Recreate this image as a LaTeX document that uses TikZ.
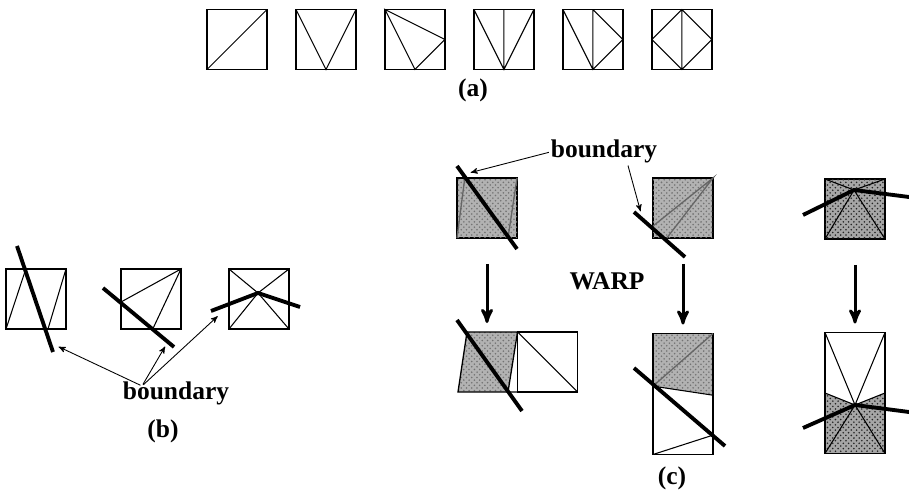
\documentclass[tikz,border=0pt]{standalone}
\usepackage{fontspec}
\setmainfont{Liberation Serif}
\usepackage{tikz}
\usetikzlibrary{arrows,calc,patterns,positioning,backgrounds}
\tikzset{
warpfig/.style={x=0.02cm,y=-0.02cm,>=stealth',line join=miter},
cell/.style={draw,line width=0.75pt,minimum width=1.2cm,minimum height=1.2cm,
inner sep=0pt,outer sep=0pt},
tall/.style={cell,minimum height=2.42cm},
mesh/.style={line width=0.6pt},
ghost/.style={line width=0.75pt,draw=black!60},
boundary line/.style={line width=2.2pt},
stipple/.style={fill=black!30,postaction={pattern=crosshatch dots,pattern color=black!55}},
dark stipple/.style={fill=black!35,postaction={pattern=crosshatch dots,pattern color=black!85}},
pointer/.style={->,line width=0.5pt,shorten >=1pt,shorten <=1pt},
warp/.style={->,line width=1.7pt,shorten <=0.52cm,shorten >=0.18cm},
caption/.style={font=\fontsize{14.5}{16}\selectfont\bfseries,inner sep=0pt,anchor=base},
}

\begin{document}
\begin{tikzpicture}[warpfig]
\useasboundingbox (0,0) rectangle (909,496);

% (a) ways of cutting one cell into triangles
\node[cell] (a1) at (237,39.5) {};
\node[cell,right=0.58cm of a1] (a2) {};
\node[cell,right=0.58cm of a2] (a3) {};
\node[cell,right=0.58cm of a3] (a4) {};
\node[cell,right=0.58cm of a4] (a5) {};
\node[cell,right=0.58cm of a5] (a6) {};
\draw[mesh] (a1.south west) -- (a1.north east);
\draw[mesh] (a2.north west) -- (a2.south) -- (a2.north east);
\draw[mesh] (a3.north west) -- (a3.east) -- (a3.south) -- cycle;
\draw[mesh] (a4.north) -- (a4.south) (a4.north west) -- (a4.south) -- (a4.north east);
\draw[mesh] (a5.north) -- (a5.south) (a5.north west) -- (a5.south) -- (a5.east) -- (a5.north);
\draw[mesh] (a6.north) -- (a6.east) -- (a6.south) -- (a6.west) -- cycle (a6.north) -- (a6.south);
\node[caption] (capa) at (473,97) {(a)};

% (b) cells crossed by a boundary
\node[cell] (b1) at (36,299) {};
\node[cell,right=1.1cm of b1] (b2) {};
\node[cell,right=0.96cm of b2] (b3) {};
\coordinate (p3) at (258,293);
\draw[mesh] ($(b1.north west)!0.33!(b1.north east)$) -- (b1.south west)
            (b1.north east) -- ($(b1.south west)!0.7!(b1.south east)$);
\draw[mesh] ($(b2.north west)!0.55!(b2.south west)$) -- (b2.north east)
            -- ($(b2.south west)!0.53!(b2.south east)$);
\draw[mesh] (b3.north west) -- (p3) -- (b3.north east)
            (b3.south west) -- (p3) -- (b3.south east);
\draw[boundary line] (17,246) -- (53,352);
\draw[boundary line] (103,288) -- (174,347);
\draw[boundary line] (211,311) -- (p3) -- (300,307);

\node[caption] (capb) at (176,399) {boundary};
\node[caption] (labb) at (163,437) {(b)};
\coordinate (bfoot) at (142,386);
\coordinate (bt1) at (57,346);
\coordinate (bt2) at (166,345);
\coordinate (bt3) at (219,315);
\draw[pointer] (bfoot) -- (bt1);
\draw[pointer] (bfoot) -- (bt2);
\draw[pointer] (bfoot) -- (bt3);

% (c) cells before and after the warp
\node[cell,stipple] (c1) at (487,208) {};
\node[cell,stipple] (c2) at (683,208) {};
\node[cell,dark stipple] (c3) at (855,209) {};
\coordinate (p5) at (854,190);
\draw[ghost] ($(c1.north west)!0.13!(c1.north east)$) -- (c1.south west)
             (c1.north east) -- ($(c1.south west)!0.85!(c1.south east)$);
\draw[ghost] ($(c2.north west)!0.8!(c2.south west)$) -- (c2.north east)
             -- ($(c2.south west)!0.23!(c2.south east)$);
\draw[mesh] (c3.north west) -- (p5) -- (c3.north east)
            (c3.south west) -- (p5) -- (c3.south east);
\draw[boundary line] (457,166) -- (517,249);
\draw[boundary line] (634,212) -- (685,257);
\draw[boundary line] (803,215) -- (p5) -- (909,197);

\node[cell] (d1) at (547.5,362) {};
\node[tall] (d2) at (683,394) {};
\node[tall] (d3) at (855,393) {};
\coordinate (q1) at (467,332);
\coordinate (q2) at (508,392);
\coordinate (q3) at (458,392);
\coordinate (d2l) at ($(d2.north west)!0.435!(d2.south west)$);
\coordinate (d2r) at ($(d2.north east)!0.51!(d2.south east)$);
\coordinate (d3l) at ($(d3.north west)!0.5!(d3.south west)$);
\coordinate (d3r) at ($(d3.north east)!0.5!(d3.south east)$);
\coordinate (p6) at (855,405);
\begin{scope}[on background layer]
\fill[stipple] (d2.north west) -- (d2.north east) -- (d2r) -- (d2l) -- cycle;
\fill[dark stipple] (d3l) -- (p6) -- (d3r) -- (d3.south east) -- (d3.south west) -- cycle;
\fill[stipple] (q1) -- (d1.north west) -- (q2) -- (q3) -- cycle;
\end{scope}
\draw[cell] (q1) -- (d1.north west) -- (q2) -- (q3) -- cycle;
\draw[cell] (q2) -- (d1.south west);
\draw[mesh] (d1.north west) -- (d1.south east);
\draw[mesh] (d2l) -- (d2r) (d2.south west) -- ($(d2.north east)!0.84!(d2.south east)$);
\draw[ghost] (d2l) -- (d2.north east);
\draw[mesh] (d3.north west) -- (p6) -- (d3.north east)
            (d3.south west) -- (p6) -- (d3.south east)
            (d3l) -- (p6) -- (d3r);
\draw[boundary line] (457,320) -- (522,411);
\draw[boundary line] (634,368) -- (725,446);
\draw[boundary line] (803,428) -- (p6) -- (909,412);

\draw[warp] (c1.south) -- (c1.south |- d1.north);
\draw[warp] (c2.south) -- (d2.north);
\draw[warp] (c3.south) -- (d3.north);

\node[caption] (capc) at (604,158) {boundary};
\node[caption] (warp) at (607,290) {WARP};
\node[caption] (labc) at (672,484) {(c)};
\coordinate (ct1) at (469,173);
\coordinate (ct2) at (641,213);
\draw[pointer] (capc.west) -- (ct1);
\draw[pointer] ($(capc.south west)!0.72!(capc.south east)$) -- (ct2);
\end{tikzpicture}
\end{document}
